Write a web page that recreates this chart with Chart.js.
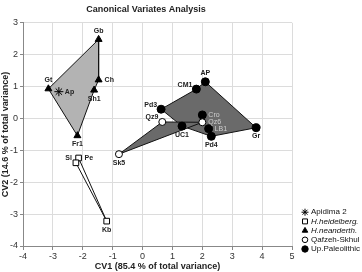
<!DOCTYPE html>
<html>
<head>
<meta charset="utf-8">
<script src="https://cdn.jsdelivr.net/npm/chart.js@4.4.1/dist/chart.umd.min.js"></script>
<style>
  body { margin: 0; background: #fff; }
  #wrap { width: 362px; height: 272px; }
</style>
</head>
<body>
<div id="wrap"><canvas id="cva" width="362" height="272"></canvas></div>
<script>
// group scores on CV1 / CV2
const apidimaNames = ['Ap'];
const apidimaX = [-2.80];
const apidimaY = [0.84];

const heidelbergNames = ['Pe', 'Sl', 'Kb'];
const heidelbergX = [-2.14, -2.23, -1.20];
const heidelbergY = [-1.24, -1.39, -3.22];

const neanderNames = ['Gb', 'Ch', 'Sh1', 'Gt', 'Fr1'];
const neanderX = [-1.47, -1.47, -1.62, -3.15, -2.18];
const neanderY = [2.48, 1.21, 0.89, 0.93, -0.54];

const qafzehNames = ['Qz9', 'Qz6', 'Sk5'];
const qafzehX = [0.66, 2.00, -0.79];
const qafzehY = [-0.11, -0.12, -1.12];

const upperNames = ['AP', 'CM1', 'Pd3', 'Cro', 'UC1', 'LB1', 'Pd4', 'Gr'];
const upperX = [2.10, 1.80, 0.62, 2.00, 1.32, 2.21, 2.30, 3.80];
const upperY = [1.15, 0.92, 0.29, 0.11, -0.24, -0.32, -0.56, -0.29];

// hull vertex order (indices into the arrays above)
const neanderHull = [3, 0, 1, 2, 4];
const heidelbergHull = [0, 2, 1];
const qafzehHull = [0, 1, 2];
const upperHull = [2, 1, 0, 7, 6, 4];

const xTicks = [-4, -3, -2, -1, 0, 1, 2, 3, 4, 5];
const yTicks = [-4, -3, -2, -1, 0, 1, 2, 3];

// where each label sits relative to its point
const labelPos = {
  Ap: 'right', Pe: 'right', Sl: 'left', Kb: 'below',
  Gb: 'above', Ch: 'right', Sh1: 'below', Gt: 'above', Fr1: 'below',
  Qz9: 'left', Qz6: 'right', Sk5: 'below',
  AP: 'above', CM1: 'left', Pd3: 'left', Cro: 'right', UC1: 'below',
  LB1: 'right', Pd4: 'below', Gr: 'below'
};
const faintLabels = ['Cro', 'Qz6', 'LB1'];

const toPoints = (xs, ys) => xs.map((x, i) => ({ x: x, y: ys[i] }));
const toHull = (xs, ys, order) => {
  const pts = order.map(i => ({ x: xs[i], y: ys[i] }));
  pts.push(pts[0]);
  return pts;
};

const hull = (data, fillColor, order) => ({
  label: '',
  data: data,
  showLine: true,
  fill: 'shape',
  backgroundColor: fillColor,
  borderColor: '#111',
  borderWidth: 1,
  pointRadius: 0,
  pointHoverRadius: 0,
  order: order
});

const markers = (label, names, data, style, fillColor, radius) => ({
  label: label,
  names: names,
  data: data,
  showLine: false,
  pointStyle: style,
  pointRadius: radius,
  pointBackgroundColor: fillColor,
  pointBorderColor: '#000',
  pointBorderWidth: 1,
  order: 0
});

const legendItems = [
  { text: 'Apidima 2', style: 'star', fill: '#000', italic: false, r: 3.5 },
  { text: 'H.heidelberg.', style: 'rect', fill: '#fff', italic: true, r: 3.5 },
  { text: 'H.neanderth.', style: 'triangle', fill: '#000', italic: true, r: 3.2 },
  { text: 'Qafzeh-Skhul', style: 'circle', fill: '#fff', italic: false, r: 2.8 },
  { text: 'Up.Paleolithic', style: 'circle', fill: '#000', italic: false, r: 3.2 }
];

const pointLabels = {
  id: 'pointLabels',
  afterDatasetsDraw(chart) {
    const ctx = chart.ctx;
    ctx.save();
    chart.data.datasets.forEach((ds, i) => {
      if (!ds.names) return;
      const meta = chart.getDatasetMeta(i);
      meta.data.forEach((el, j) => {
        const name = ds.names[j];
        const pos = labelPos[name];
        const faint = faintLabels.includes(name);
        ctx.font = (faint ? '' : 'bold ') + '7px "Liberation Sans", Arial, sans-serif';
        ctx.fillStyle = faint ? '#cfcfcf' : '#222';
        let x = el.x, y = el.y;
        if (pos === 'above') { ctx.textAlign = 'center'; ctx.textBaseline = 'bottom'; y -= 5; }
        else if (pos === 'below') { ctx.textAlign = 'center'; ctx.textBaseline = 'top'; y += 5; }
        else if (pos === 'left') { ctx.textAlign = 'right'; ctx.textBaseline = 'bottom'; x -= 4; y -= 1; }
        else { ctx.textAlign = 'left'; ctx.textBaseline = 'middle'; x += 6; }
        ctx.fillText(name, x, y);
      });
    });
    ctx.restore();
  }
};

const sideLegend = {
  id: 'sideLegend',
  afterDraw(chart) {
    const ctx = chart.ctx;
    const left = chart.chartArea.right + 13;
    const bottom = chart.chartArea.bottom + 3;
    ctx.save();
    legendItems.forEach((it, i) => {
      const y = bottom - (legendItems.length - 1 - i) * 9.2;
      ctx.fillStyle = it.fill;
      ctx.strokeStyle = '#000';
      ctx.lineWidth = 1;
      Chart.helpers.drawPoint(ctx, { pointStyle: it.style, radius: it.r, rotation: 0, borderWidth: 1 }, left, y);
      ctx.fillStyle = '#111';
      ctx.font = (it.italic ? 'italic ' : '') + '8px "Liberation Sans", Arial, sans-serif';
      ctx.textAlign = 'left';
      ctx.textBaseline = 'middle';
      ctx.fillText(it.text, left + 6, y);
    });
    ctx.restore();
  }
};

const font = { family: '"Liberation Sans", Arial, sans-serif', size: 9 };

new Chart(document.getElementById('cva'), {
  type: 'scatter',
  data: {
    datasets: [
      markers('Apidima 2', apidimaNames, toPoints(apidimaX, apidimaY), 'star', '#000', 4.5),
      markers('H.heidelberg.', heidelbergNames, toPoints(heidelbergX, heidelbergY), 'rect', '#fff', 4),
      markers('H.neanderth.', neanderNames, toPoints(neanderX, neanderY), 'triangle', '#000', 4),
      markers('Qafzeh-Skhul', qafzehNames, toPoints(qafzehX, qafzehY), 'circle', '#fff', 3.5),
      markers('Up.Paleolithic', upperNames, toPoints(upperX, upperY), 'circle', '#000', 4),
      hull(toHull(qafzehX, qafzehY, qafzehHull), '#6a6a6a', 1),
      hull(toHull(heidelbergX, heidelbergY, heidelbergHull), '#ffffff', 2),
      hull(toHull(neanderX, neanderY, neanderHull), '#b3b3b3', 2),
      hull(toHull(upperX, upperY, upperHull), '#6a6a6a', 2)
    ]
  },
  options: {
    responsive: false,
    animation: false,
    devicePixelRatio: 1,
    layout: { padding: { top: 4, right: 70, left: 0, bottom: 0 } },
    plugins: {
      legend: { display: false },
      tooltip: { enabled: false },
      title: {
        display: true,
        text: 'Canonical Variates Analysis',
        color: '#222',
        font: { family: font.family, size: 9, weight: 'bold' },
        padding: { top: 0, bottom: 8 }
      }
    },
    scales: {
      x: {
        type: 'linear',
        min: -4, max: 5,
        afterBuildTicks: s => { s.ticks = xTicks.map(v => ({ value: v })); },
        afterFit: s => { s.height = 26; },
        grid: { color: '#dcdcdc', tickLength: 4, tickColor: '#888' },
        border: { color: '#888' },
        ticks: { color: '#333', font: font, padding: 1, maxRotation: 0 },
        title: {
          display: true,
          text: 'CV1 (85.4 % of total variance)',
          color: '#222',
          font: { family: font.family, size: 9, weight: 'bold' },
          padding: { top: 0, bottom: 0 }
        }
      },
      y: {
        type: 'linear',
        min: -4, max: 3,
        afterBuildTicks: s => { s.ticks = yTicks.map(v => ({ value: v })); },
        afterFit: s => { s.width = 23; },
        grid: { color: '#dcdcdc', tickLength: 3, tickColor: '#888' },
        border: { color: '#888' },
        ticks: { color: '#333', font: font, padding: 2 },
        title: {
          display: true,
          text: 'CV2 (14.6 % of total variance)',
          color: '#222',
          font: { family: font.family, size: 9, weight: 'bold' },
          padding: { top: 0, bottom: 0 }
        }
      }
    }
  },
  plugins: [pointLabels, sideLegend]
});
</script>
</body>
</html>
